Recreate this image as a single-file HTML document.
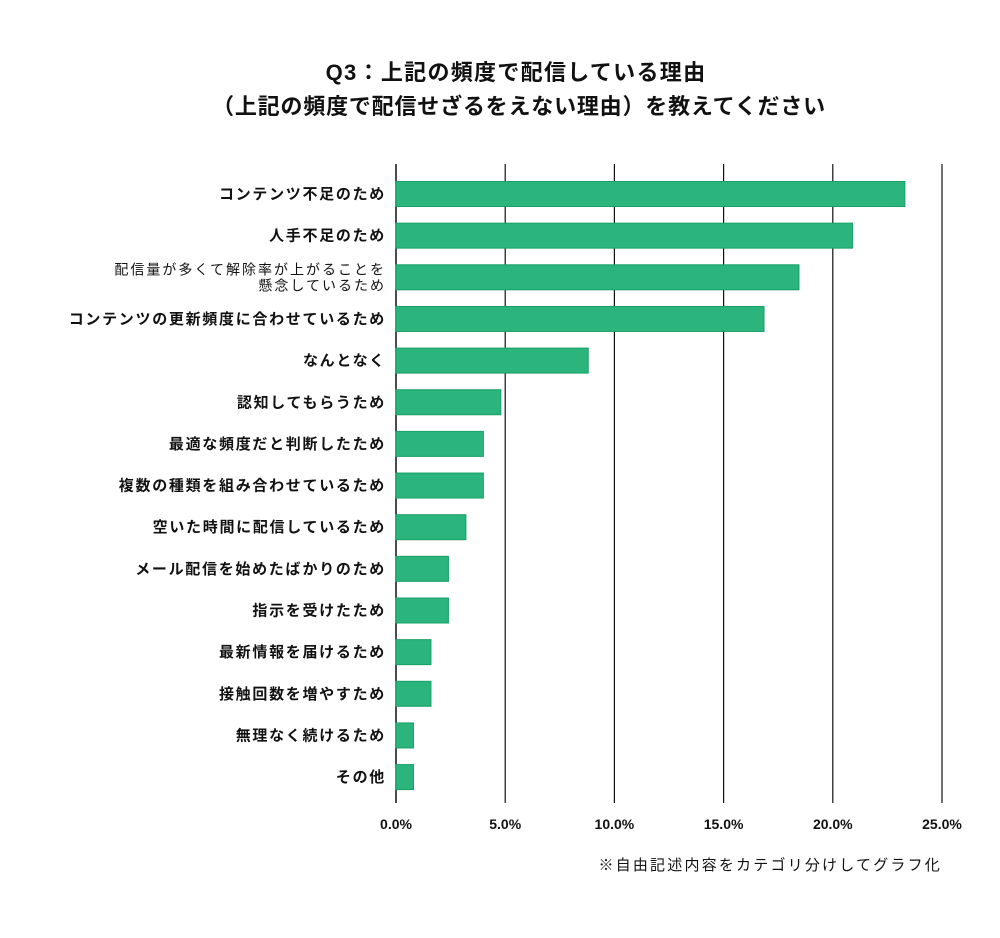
<!DOCTYPE html>
<html><head><meta charset="utf-8"><style>
body{margin:0;background:#fff;}
svg text{font-family:"Liberation Sans","Noto Sans CJK JP",sans-serif;fill:#111;}
</style></head><body>
<svg id="chart" width="1000" height="933" xmlns="http://www.w3.org/2000/svg">
<text x="516" y="80" text-anchor="middle" font-size="22" font-weight="bold" letter-spacing="1.3">Q3：上記の頻度で配信している理由</text>
<text x="519" y="114" text-anchor="middle" font-size="22" font-weight="bold" letter-spacing="0.8">（上記の頻度で配信せざるをえない理由）を教えてください</text>
<g id="grid"></g><g id="bars"></g><g id="labels"></g><g id="ticks"></g>
<text x="942" y="870" text-anchor="end" font-size="15" letter-spacing="2.2">※自由記述内容をカテゴリ分けしてグラフ化</text>
</svg>
<script>
const categories=["コンテンツ不足のため","人手不足のため","配信量が多くて解除率が上がることを|懸念しているため","コンテンツの更新頻度に合わせているため","なんとなく","認知してもらうため","最適な頻度だと判断したため","複数の種類を組み合わせているため","空いた時間に配信しているため","メール配信を始めたばかりのため","指示を受けたため","最新情報を届けるため","接触回数を増やすため","無理なく続けるため","その他"];
const values=[23.3,20.9,18.45,16.85,8.8,4.8,4.0,4.0,3.2,2.4,2.4,1.6,1.6,0.8,0.8];
const tickValues=[0,5,10,15,20,25];
const tickLabels=["0.0%","5.0%","10.0%","15.0%","20.0%","25.0%"];
const NS="http://www.w3.org/2000/svg";
const x0=396,x1=942,maxV=25,yTop=164,yBot=803,row0=194,rowStep=41.65,barH=25;
const xs=v=>x0+(v/maxV)*(x1-x0);
const ys=i=>row0+i*rowStep;
function mk(tag,attrs,parent){const e=document.createElementNS(NS,tag);for(const k in attrs)e.setAttribute(k,attrs[k]);document.getElementById(parent).appendChild(e);return e;}
tickValues.forEach((t,i)=>{
  const l=mk('line',{x1:xs(t),x2:xs(t),y1:yTop,y2:yBot,stroke:'#111','stroke-width':i===0?1.5:1.2},'grid');
  
  
  const tx=mk('text',{x:xs(t),y:829,'text-anchor':'middle','font-size':14,'font-weight':'bold'},'ticks');
  tx.textContent=tickLabels[i];
  
  
});
values.forEach((v,i)=>{
  const r=mk('rect',{x:x0,y:ys(i)-barH/2,width:xs(v)-x0,height:barH,fill:'#2bb57d',stroke:'#17a065','stroke-width':1},'bars');
  
  
  const parts=categories[i].split('|');
  const multi=parts.length>1;
  const t=mk('text',{x:386,'text-anchor':'end','font-size':multi?14:15,'font-weight':multi?'normal':'bold','letter-spacing':multi?2:1.7},'labels');
  
  
  if(!multi){t.setAttribute('y',ys(i)+5);t.textContent=parts[0];}
  else{parts.forEach((p,j)=>{const s=document.createElementNS(NS,'tspan');s.setAttribute('x',386);s.setAttribute('y',ys(i)-3+j*16);s.textContent=p;t.appendChild(s);});}
});
</script>
</body></html>
